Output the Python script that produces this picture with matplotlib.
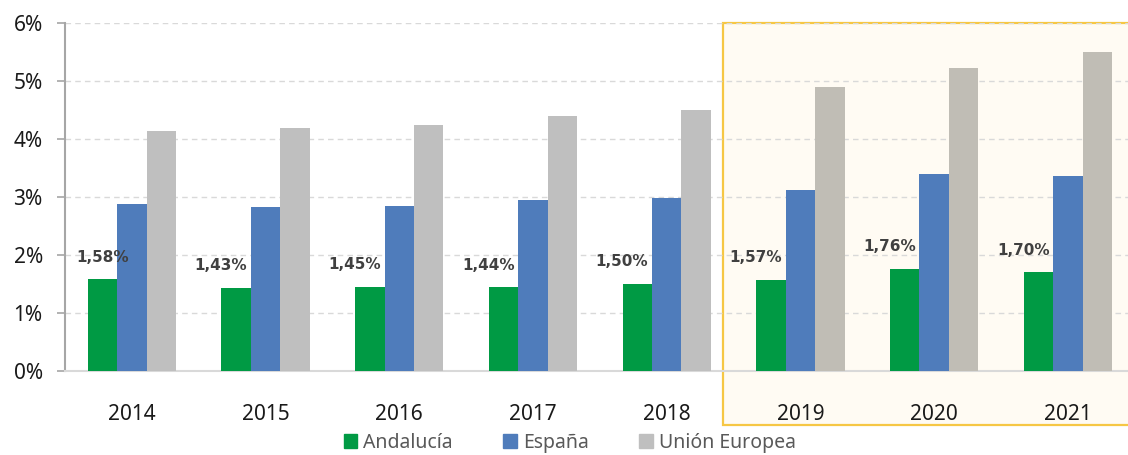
import numpy as np
import matplotlib
matplotlib.use("Agg")
import matplotlib.pyplot as plt
from matplotlib.patches import Rectangle, Patch
from matplotlib.ticker import FuncFormatter

years = ["2014", "2015", "2016", "2017", "2018", "2019", "2020", "2021"]
andalucia = [1.58, 1.43, 1.45, 1.44, 1.50, 1.57, 1.76, 1.70]
espana = [2.88, 2.83, 2.85, 2.95, 2.99, 3.12, 3.40, 3.37]
ue = [4.14, 4.19, 4.24, 4.40, 4.50, 4.89, 5.23, 5.50]
andalucia_labels = ["1,58%", "1,43%", "1,45%", "1,44%", "1,50%", "1,57%", "1,76%", "1,70%"]
series_names = ["Andalucía", "España", "Unión Europea"]

green = "#009A44"
blue = "#4F7CBB"
grey = "#BFBFBF"
grey_hl = "#C0BDB5"

plt.rcParams["font.family"] = ["Noto Sans", "DejaVu Sans"]

W, H = 1128, 455
fig = plt.figure(figsize=(W / 100, H / 100), dpi=100)
ax = fig.add_axes([65 / W, (H - 371) / H, (W - 65) / W, 348 / H])
ax.patch.set_facecolor("none")

# highlighted period (2019-2021)
fig.patches.append(Rectangle((723 / W, (H - 425) / H), 0.5, (425 - 23) / H,
                             transform=fig.transFigure, facecolor="#FFFBF3",
                             edgecolor="#F6C744", lw=1.6, zorder=-5))

x = np.arange(len(years))
bw = 0.22
ax.bar(x - bw, andalucia, bw, color=green, zorder=3)
ax.bar(x, espana, bw, color=blue, zorder=3)
ue_colors = [grey if int(y) < 2019 else grey_hl for y in years]
ax.bar(x + bw, ue, bw, color=ue_colors, zorder=3)

for i, (v, lab) in enumerate(zip(andalucia, andalucia_labels)):
    dx = 0 if i == 0 else -11
    ax.annotate(lab, (x[i] - bw, v), xytext=(dx, 16), textcoords="offset points",
                ha="center", va="center", fontsize=11, fontweight="bold",
                color="#404040", family="DejaVu Sans", zorder=5)

ax.set_xlim(-0.5, 7.45)
ax.set_ylim(0, 6)
ax.set_yticks(range(0, 7))
ax.yaxis.set_major_formatter(FuncFormatter(lambda v, p: f"{int(v)}%"))
ax.set_xticks(x)
ax.set_xticklabels(years)
ax.tick_params(axis="x", length=0, pad=24, labelsize=15, labelcolor="#1a1a1a")
ax.tick_params(axis="y", length=6, width=1.2, color="#A6A6A6", pad=10,
               labelsize=15, labelcolor="#1a1a1a")

ax.grid(axis="y", color="#D9D9D9", ls=(0, (4, 3)), lw=1)
ax.set_axisbelow(True)
for s in ["top", "right"]:
    ax.spines[s].set_visible(False)
ax.spines["left"].set_color("#A6A6A6")
ax.spines["left"].set_linewidth(1.5)
ax.spines["bottom"].set_color("#D9D9D9")
ax.spines["bottom"].set_linewidth(1.5)

handles = [Patch(color=c) for c in [green, blue, grey]]
fig.legend(handles, series_names, loc="center", bbox_to_anchor=(0.505, 0.027), ncol=3,
           frameon=False, fontsize=14, labelcolor="#595959", handlelength=0.7,
           handleheight=0.7, handletextpad=0.3, columnspacing=2.6)

fig.savefig("out.png", dpi=100)
